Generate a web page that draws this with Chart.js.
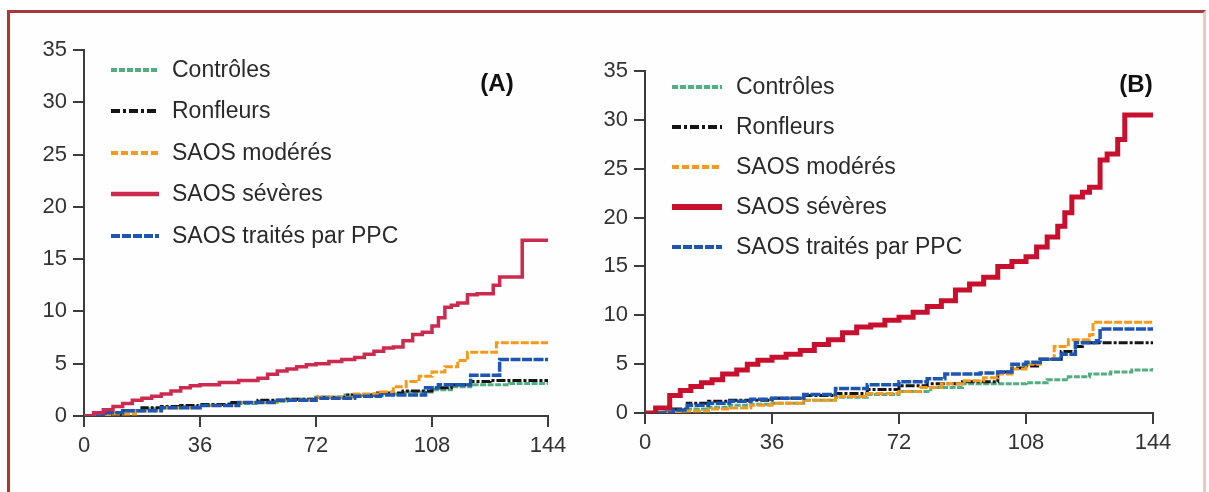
<!DOCTYPE html>
<html>
<head>
<meta charset="utf-8">
<script src="https://cdn.jsdelivr.net/npm/chart.js@4/dist/chart.umd.min.js"></script>
<style>
  body { margin: 0; background: #fff; width: 1209px; height: 492px; overflow: hidden; position: relative; }
  .frame { position: absolute; left: 7px; top: 10px; width: 1199px; height: 490px; border: 3px solid #a8383c; border-right-color: #ecc6c8; background: #fefefe; box-sizing: border-box; }
  .panel { position: absolute; top: 0; }
</style>
</head>
<body>
<div class="frame"></div>
<div class="panel" style="left:0"><canvas id="chartA" width="600" height="492"></canvas></div>
<div class="panel" style="left:600px"><canvas id="chartB" width="609" height="492"></canvas></div>
<script>
// Months of follow-up and cumulative incidence (%)

const labels = ['Contrôles', 'Ronfleurs', 'SAOS modérés', 'SAOS sévères', 'SAOS traités par PPC'];
const xTicks = [0, 36, 72, 108, 144];

// Panel (A)
const aCtrlT = [0, 6, 12, 18, 24, 30, 36, 45, 54, 63, 72, 81, 90, 99, 108, 114, 120, 126, 132, 138, 144];
const aCtrlY = [0, 0.3, 0.5, 0.7, 0.8, 0.9, 1.0, 1.2, 1.4, 1.6, 1.8, 2.0, 2.1, 2.3, 2.5, 2.8, 3.0, 3.0, 3.1, 3.1, 3.1];
const aRonfT = [0, 6, 12, 18, 24, 30, 36, 45, 54, 63, 72, 81, 90, 99, 108, 114, 120, 126, 132, 144];
const aRonfY = [0, 0.2, 0.5, 0.8, 0.9, 1.0, 1.1, 1.3, 1.5, 1.6, 1.8, 2.0, 2.2, 2.4, 2.7, 3.0, 3.3, 3.4, 3.4, 3.4];
const aModT = [0, 8, 16, 24, 36, 48, 60, 72, 84, 92, 96, 100, 104, 108, 112, 116, 119, 128, 144];
const aModY = [0, 0.2, 0.5, 0.8, 1.0, 1.3, 1.5, 1.8, 2.1, 2.3, 2.8, 3.3, 3.8, 4.2, 4.7, 5.3, 6.1, 7.0, 7.0];
const aSevT = [0, 3, 6, 9, 12, 15, 18, 21, 24, 27, 30, 33, 36, 42, 48, 54, 57, 60, 63, 66, 69, 72, 76, 80, 84, 87, 90, 93, 96, 99, 102, 105, 108, 110, 112, 114, 116, 119, 122, 127, 129, 136, 144];
const aSevY = [0, 0.3, 0.6, 0.9, 1.2, 1.5, 1.7, 1.9, 2.1, 2.4, 2.7, 2.9, 3.0, 3.2, 3.4, 3.6, 4.0, 4.3, 4.5, 4.7, 4.9, 5.0, 5.2, 5.4, 5.6, 5.9, 6.2, 6.5, 6.6, 7.2, 7.8, 8.0, 8.6, 9.4, 10.4, 10.6, 10.8, 11.6, 11.7, 12.5, 13.3, 16.8, 16.8];
const aPpcT = [0, 6, 12, 24, 36, 48, 60, 72, 84, 92, 106, 110, 120, 129, 144];
const aPpcY = [0, 0.3, 0.5, 0.8, 1.0, 1.3, 1.5, 1.7, 1.9, 2.0, 2.7, 3.0, 3.9, 5.4, 5.4];

// Panel (B)
const bCtrlT = [0, 6, 12, 18, 24, 30, 36, 45, 54, 63, 72, 81, 90, 99, 108, 114, 120, 126, 132, 138, 144];
const bCtrlY = [0, 0.2, 0.4, 0.6, 0.8, 0.9, 1.0, 1.3, 1.6, 1.9, 2.2, 2.6, 3.0, 3.0, 3.1, 3.4, 3.7, 4.0, 4.2, 4.4, 4.6];
const bRonfT = [0, 8, 12, 18, 24, 36, 45, 54, 63, 72, 80, 90, 100, 104, 108, 112, 118, 122, 124, 144];
const bRonfY = [0, 0.4, 1.0, 1.2, 1.3, 1.5, 1.8, 2.0, 2.4, 2.8, 3.0, 3.2, 4.2, 4.6, 4.8, 5.5, 6.3, 6.8, 7.2, 7.2];
const bModT = [0, 10, 18, 24, 30, 36, 45, 54, 63, 72, 78, 84, 90, 96, 100, 104, 108, 112, 116, 120, 126, 127, 144];
const bModY = [0, 0.2, 0.4, 0.5, 0.8, 1.0, 1.3, 1.7, 2.0, 2.2, 2.6, 3.0, 3.3, 3.6, 4.0, 4.5, 5.0, 5.5, 6.8, 7.5, 8.0, 9.3, 9.3];
const bSevT = [0, 3, 7, 10, 13, 16, 19, 22, 26, 29, 32, 36, 40, 44, 48, 52, 56, 60, 64, 68, 72, 76, 80, 84, 88, 92, 96, 100, 104, 108, 111, 114, 117, 119, 121, 124, 126, 129, 131, 134, 136, 144];
const bSevY = [0, 0.5, 1.8, 2.3, 2.7, 3.1, 3.4, 4.0, 4.4, 5.0, 5.4, 5.7, 6.0, 6.4, 7.0, 7.5, 8.2, 8.8, 9.0, 9.5, 9.8, 10.3, 10.9, 11.5, 12.6, 13.2, 13.9, 15.0, 15.5, 16.0, 17.0, 18.0, 19.1, 20.5, 22.1, 22.6, 23.1, 25.9, 26.5, 28.0, 30.5, 30.5];
const bPpcT = [0, 8, 12, 18, 24, 30, 36, 45, 54, 63, 72, 80, 85, 95, 100, 104, 108, 112, 118, 122, 128, 129, 144];
const bPpcY = [0, 0.3, 0.8, 1.0, 1.2, 1.4, 1.5, 1.9, 2.5, 2.9, 3.2, 3.5, 4.0, 4.1, 4.2, 5.0, 5.2, 5.5, 6.0, 7.2, 7.4, 8.6, 8.6];

const FONT = '"Liberation Sans", Arial, sans-serif';
const AXIS = '#3c3c3c';

function pts(t, y) {
    return t.map((x, i) => ({ x: x, y: y[i] }));
}

// Draws the legend and the panel letter inside the plot area
const insideLegend = {
    id: 'insideLegend',
    afterDraw(chart, args, opts) {
        const ctx = chart.ctx;
        ctx.save();
        chart.data.datasets.forEach((ds, i) => {
            const y = opts.ys[i];
            ctx.beginPath();
            ctx.strokeStyle = ds.borderColor;
            ctx.lineWidth = ds.legendWidth || ds.borderWidth;
            ctx.setLineDash(ds.legendDash || []);
            ctx.moveTo(opts.x0, y);
            ctx.lineTo(opts.x1, y);
            ctx.stroke();
            ctx.setLineDash([]);
            ctx.fillStyle = '#2a2a2a';
            ctx.font = '23px ' + FONT;
            ctx.textBaseline = 'middle';
            ctx.textAlign = 'left';
            ctx.fillText(ds.label, opts.tx, y + 1);
        });
        ctx.font = 'bold 24px ' + FONT;
        ctx.fillStyle = '#111';
        ctx.textAlign = 'center';
        ctx.fillText(opts.title, opts.titleX, opts.titleY);
        ctx.restore();
    }
};

function makeChart(id, series, sevColor, sevWidth, yAxisWidth, pad, legend) {
    const styles = [
        { color: '#52ad80', width: 3, dash: [6, 1.5], legendDash: [6, 2] },
        { color: '#151515', width: 3, dash: [9, 2, 3, 2], legendDash: [9, 3, 3, 3] },
        { color: '#f39a1c', width: 3, dash: [8, 2], legendDash: [7, 3] },
        { color: sevColor, width: sevWidth, dash: [], legendDash: [] },
        { color: '#1d56b2', width: 3.5, dash: [10, 1.5], legendDash: [9, 2] }
    ];
    const datasets = series.map((s, i) => ({
        label: labels[i],
        data: pts(s[0], s[1]),
        borderColor: styles[i].color,
        borderWidth: styles[i].width,
        borderDash: styles[i].dash,
        legendDash: styles[i].legendDash,
        legendWidth: i === 3 ? sevWidth + 1 : 4,
        stepped: true,
        pointRadius: 0,
        fill: false
    }));
    // draw the severe group last so it sits on top
    const order = [0, 1, 2, 4, 3];
    datasets.forEach((d, i) => { d.order = 5 - order.indexOf(i); });

    return new Chart(document.getElementById(id), {
        type: 'line',
        data: { datasets: datasets },
        plugins: [insideLegend],
        options: {
            responsive: false,
            animation: false,
            devicePixelRatio: 1,
            layout: { padding: pad },
            plugins: {
                legend: { display: false },
                tooltip: { enabled: false },
                insideLegend: legend
            },
            scales: {
                x: {
                    type: 'linear',
                    min: 0,
                    max: 144,
                    afterBuildTicks(scale) { scale.ticks = xTicks.map(v => ({ value: v })); },
                    afterFit(scale) { scale.height = 40; },
                    border: { display: true, color: AXIS, width: 2 },
                    grid: { drawOnChartArea: false, drawTicks: true, tickLength: 11, color: AXIS, lineWidth: 2 },
                    ticks: { color: '#333', font: { family: FONT, size: 22 }, padding: 6, maxRotation: 0 }
                },
                y: {
                    min: 0,
                    max: 35,
                    afterFit(scale) { scale.width = yAxisWidth; },
                    border: { display: true, color: AXIS, width: 2 },
                    grid: { drawOnChartArea: false, drawTicks: true, tickLength: 11, color: AXIS, lineWidth: 2 },
                    ticks: { stepSize: 5, color: '#333', font: { family: FONT, size: 22 }, padding: 6 }
                }
            }
        }
    });
}

makeChart('chartA',
    [[aCtrlT, aCtrlY], [aRonfT, aRonfY], [aModT, aModY], [aSevT, aSevY], [aPpcT, aPpcY]],
    '#cc2a4e', 3.5, 84,
    { left: 0, right: 52, top: 50, bottom: 36 },
    { x0: 111, x1: 159, tx: 172, ys: [70, 111, 153, 194, 236], title: '(A)', titleX: 497, titleY: 84 });

makeChart('chartB',
    [[bCtrlT, bCtrlY], [bRonfT, bRonfY], [bModT, bModY], [bSevT, bSevY], [bPpcT, bPpcY]],
    '#c8102e', 5, 45,
    { left: 0, right: 56, top: 71, bottom: 39 },
    { x0: 72, x1: 122, tx: 136, ys: [87, 127, 167, 207, 247], title: '(B)', titleX: 536, titleY: 85 });
</script>
</body>
</html>
